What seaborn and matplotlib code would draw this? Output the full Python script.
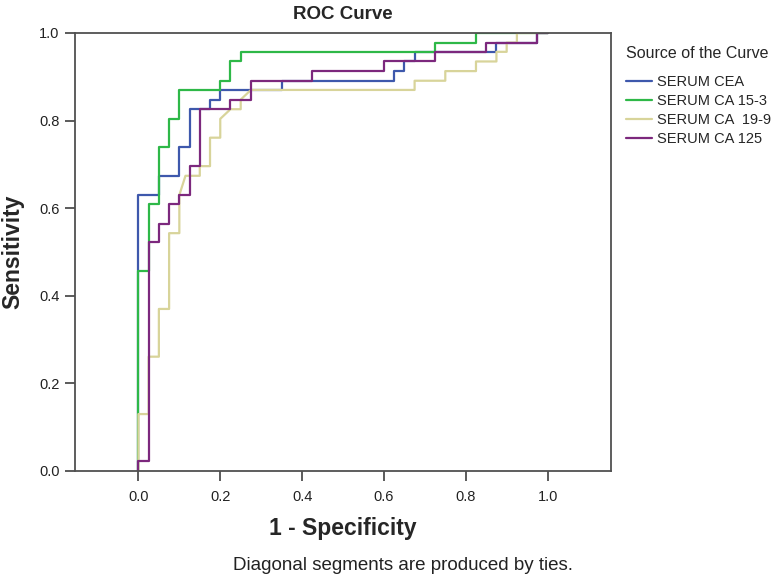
"""
ROC curves for four serum tumour markers (SPSS style chart).
"""

import matplotlib
matplotlib.use("Agg")
import matplotlib.pyplot as plt
import seaborn as sns
import pandas as pd

# --------------------------------------------------------
# Data
# --------------------------------------------------------

CURVE_NAMES = ["SERUM CEA", "SERUM CA 15-3", "SERUM CA  19-9", "SERUM CA 125"]

CURVE_COLORS = ["#3E58AC", "#2EB848", "#D8D49A", "#7C287D"]

cea_fpr = [0.0, 0.0, 0.05, 0.05, 0.1, 0.1, 0.125, 0.125, 0.175, 0.175, 0.2, 0.2,
           0.35, 0.35, 0.625, 0.625, 0.65, 0.65, 0.675, 0.675, 0.875, 0.875,
           0.975, 0.975, 1.0]
cea_tpr = [0.0, 0.630, 0.630, 0.674, 0.674, 0.739, 0.739, 0.826, 0.826, 0.848,
           0.848, 0.870, 0.870, 0.891, 0.891, 0.913, 0.913, 0.935, 0.935, 0.957,
           0.957, 0.978, 0.978, 1.0, 1.0]

ca153_fpr = [0.0, 0.0, 0.025, 0.025, 0.05, 0.05, 0.075, 0.075, 0.1, 0.1, 0.2, 0.2,
             0.225, 0.225, 0.25, 0.25, 0.725, 0.725, 0.825, 0.825, 1.0]
ca153_tpr = [0.0, 0.457, 0.457, 0.609, 0.609, 0.739, 0.739, 0.804, 0.804, 0.870,
             0.870, 0.891, 0.891, 0.935, 0.935, 0.957, 0.957, 0.978, 0.978, 1.0, 1.0]

ca199_fpr = [0.0, 0.0, 0.025, 0.025, 0.05, 0.05, 0.075, 0.075, 0.1, 0.1, 0.115,
             0.15, 0.15, 0.175, 0.175, 0.2, 0.2, 0.225, 0.25, 0.25, 0.275, 0.675,
             0.675, 0.75, 0.75, 0.825, 0.825, 0.875, 0.875, 0.9, 0.9, 0.925, 0.925,
             1.0]
ca199_tpr = [0.0, 0.130, 0.130, 0.261, 0.261, 0.370, 0.370, 0.543, 0.543, 0.630,
             0.674, 0.674, 0.696, 0.696, 0.761, 0.761, 0.804, 0.826, 0.826, 0.848,
             0.870, 0.870, 0.891, 0.891, 0.913, 0.913, 0.935, 0.935, 0.957, 0.957,
             0.978, 0.978, 1.0, 1.0]

ca125_fpr = [0.0, 0.0, 0.025, 0.025, 0.05, 0.05, 0.075, 0.075, 0.1, 0.1, 0.125,
             0.125, 0.15, 0.15, 0.225, 0.225, 0.275, 0.275, 0.425, 0.425, 0.6, 0.6,
             0.725, 0.725, 0.85, 0.85, 0.975, 0.975, 1.0]
ca125_tpr = [0.0, 0.022, 0.022, 0.522, 0.522, 0.565, 0.565, 0.609, 0.609, 0.630,
             0.630, 0.696, 0.696, 0.826, 0.826, 0.848, 0.848, 0.891, 0.891, 0.913,
             0.913, 0.935, 0.935, 0.957, 0.957, 0.978, 0.978, 1.0, 1.0]

TICKS = [0.0, 0.2, 0.4, 0.6, 0.8, 1.0]
TICK_LABELS = ["0.0", "0.2", "0.4", "0.6", "0.8", "1.0"]

# --------------------------------------------------------
# Long table for seaborn
# --------------------------------------------------------

frames = []
for name, fpr, tpr in zip(CURVE_NAMES,
                          [cea_fpr, ca153_fpr, ca199_fpr, ca125_fpr],
                          [cea_tpr, ca153_tpr, ca199_tpr, ca125_tpr]):
    frames.append(pd.DataFrame({"fpr": fpr, "tpr": tpr, "curve": name}))
roc = pd.concat(frames, ignore_index=True)

# --------------------------------------------------------
# Plot
# --------------------------------------------------------

sns.set_theme(style="white")
plt.rcParams["font.family"] = ["Liberation Sans", "DejaVu Sans"]

fig = plt.figure(figsize=(7.74, 5.76), dpi=100)
ax = fig.add_axes([75 / 774, 105 / 576, 536 / 774, 438 / 576])

sns.lineplot(
    data=roc,
    x="fpr",
    y="tpr",
    hue="curve",
    hue_order=CURVE_NAMES,
    palette=CURVE_COLORS,
    sort=False,
    estimator=None,
    linewidth=1.6,
    ax=ax
)

ax.set_xlim(-0.155, 1.155)
ax.set_ylim(0.0, 1.0)

ax.set_xticks(TICKS)
ax.set_xticklabels(TICK_LABELS)
ax.set_yticks(TICKS)
ax.set_yticklabels(TICK_LABELS)

ax.tick_params(axis="both", which="major", direction="out", length=7,
               width=1.2, color="#404040", labelsize=10.5, labelcolor="#222222",
               bottom=True, left=True)
ax.tick_params(axis="x", pad=7)
ax.tick_params(axis="y", pad=4)

for spine in ax.spines.values():
    spine.set_color("#505050")
    spine.set_linewidth(1.3)

ax.set_title("ROC Curve", fontsize=13.5, fontweight="bold", pad=10)

ax.set_xlabel("1 - Specificity", fontsize=16.5, fontweight="bold")
ax.xaxis.label.set_va("baseline")
ax.xaxis.set_label_coords(0.5, (471 - 535) / 438)

ax.set_ylabel("Sensitivity", fontsize=16.5, fontweight="bold")
ax.yaxis.label.set_va("center")
ax.yaxis.set_label_coords((13 - 75) / 536, 0.5)

fig.text(403 / 774, 1 - 570 / 576, "Diagonal segments are produced by ties.",
         ha="center", va="baseline", fontsize=13.5, color="#222222")

sns.move_legend(
    ax,
    "upper left",
    bbox_to_anchor=(626 / 774, 1 - 46 / 576),
    bbox_transform=fig.transFigure,
    title="Source of the Curve",
    frameon=False,
    fontsize=10.5,
    title_fontsize=11.5,
    borderpad=0,
    borderaxespad=0,
    handlelength=1.8,
    handletextpad=0.3,
    labelspacing=0.35,
    alignment="left"
)

# wider gap between legend title and its entries, as in the SPSS output
leg = ax.get_legend()
leg._legend_box.sep = 10

plt.savefig("out.png", dpi=100)
plt.close()
